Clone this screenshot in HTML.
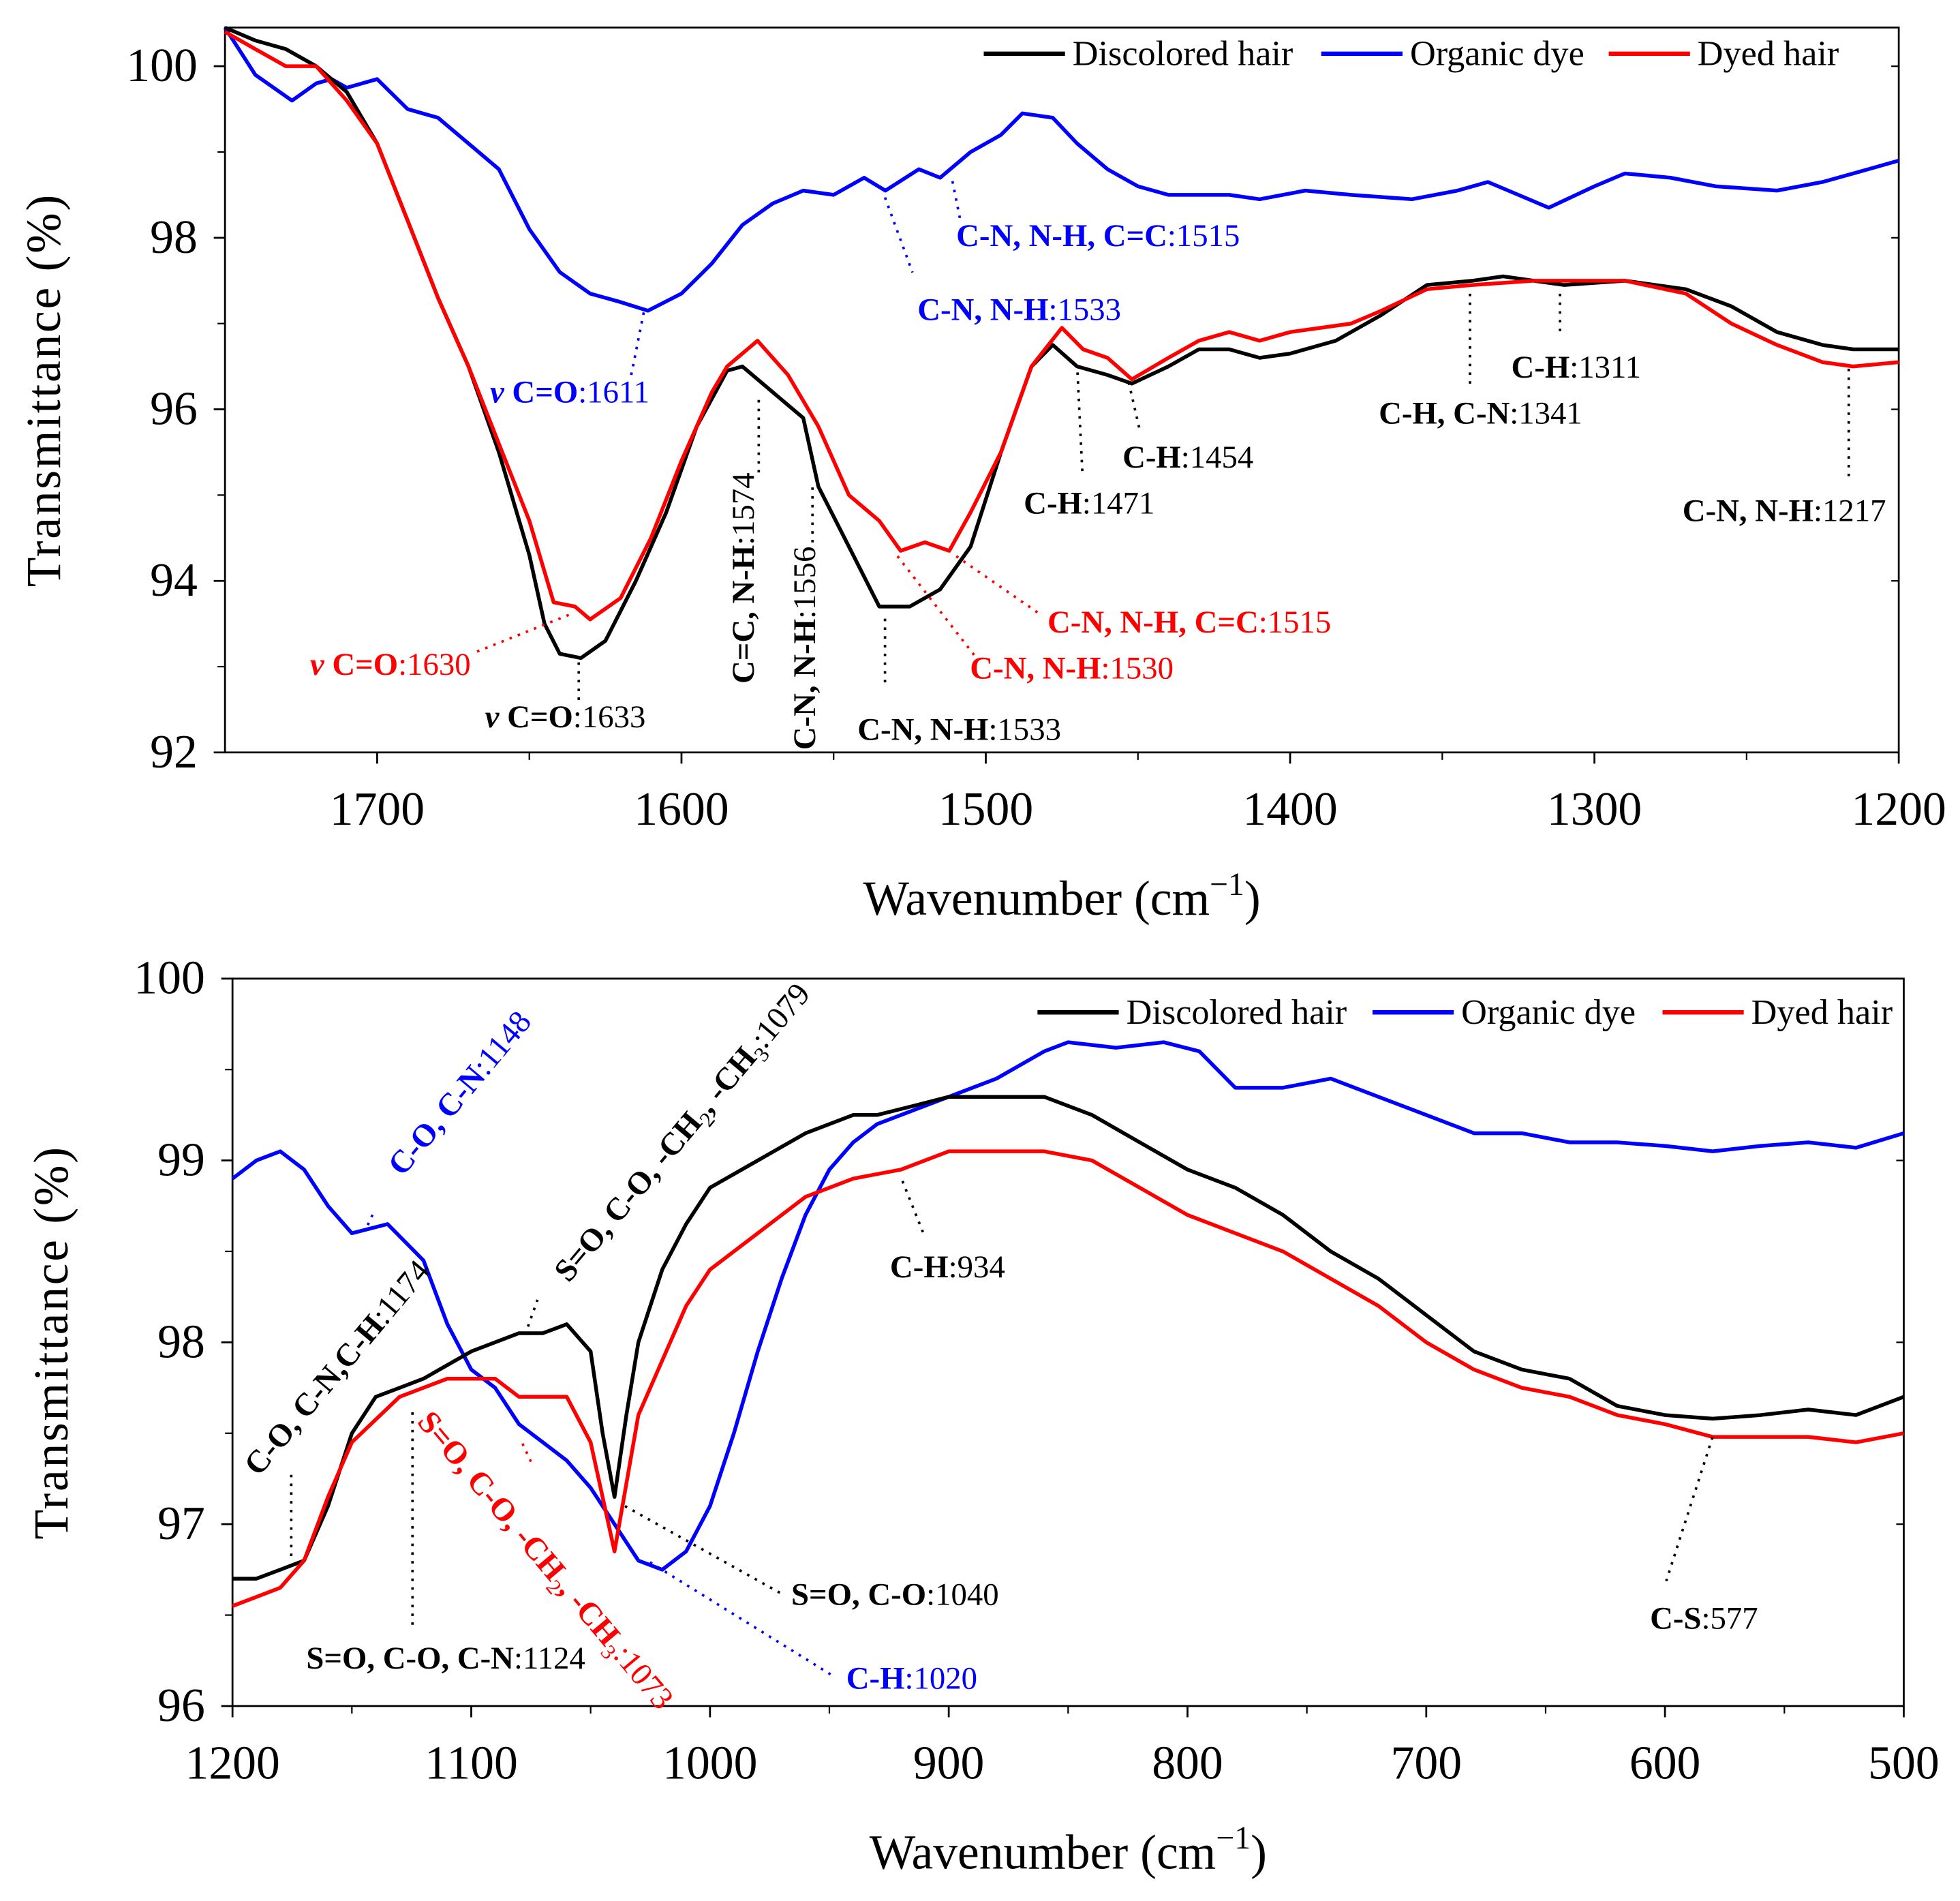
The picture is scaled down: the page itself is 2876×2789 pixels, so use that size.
<!DOCTYPE html>
<html><head><meta charset="utf-8"><style>
html,body{margin:0;padding:0;background:#fff}
svg{display:block}
text{font-family:"Liberation Serif",serif}
</style></head><body>
<svg id="chart" width="2876" height="2789" viewBox="0 0 1568 1521" preserveAspectRatio="none" xmlns="http://www.w3.org/2000/svg">
<g id="top"></g>
<g id="bot"></g>
<g id="ann" font-size="25.5">
 <g stroke-dasharray="2,5" stroke-width="2" fill="none">
  <line x1="515" y1="250" x2="505" y2="300" stroke="#0000ff"/>
  <line x1="708" y1="158" x2="730" y2="218" stroke="#0000ff"/>
  <line x1="762" y1="145" x2="768" y2="175" stroke="#0000ff"/>
  <line x1="463" y1="530" x2="463" y2="560" stroke="#000"/>
  <line x1="455" y1="492" x2="380" y2="522" stroke="#ff0000"/>
  <line x1="607" y1="320" x2="607" y2="380" stroke="#000"/>
  <line x1="650" y1="390" x2="650" y2="440" stroke="#000"/>
  <line x1="708" y1="495" x2="708" y2="550" stroke="#000"/>
  <line x1="718" y1="445" x2="780" y2="525" stroke="#ff0000"/>
  <line x1="765" y1="445" x2="830" y2="490" stroke="#ff0000"/>
  <line x1="862" y1="298" x2="866" y2="380" stroke="#000"/>
  <line x1="903" y1="306" x2="912" y2="345" stroke="#000"/>
  <line x1="1176" y1="235" x2="1176" y2="310" stroke="#000"/>
  <line x1="1248" y1="235" x2="1248" y2="270" stroke="#000"/>
  <line x1="1479" y1="295" x2="1479" y2="385" stroke="#000"/>
  <line x1="298" y1="972" x2="292" y2="985" stroke="#0000ff"/>
  <line x1="233" y1="1180" x2="233" y2="1245" stroke="#000"/>
  <line x1="330" y1="1130" x2="330" y2="1305" stroke="#000"/>
  <line x1="420" y1="1068" x2="430" y2="1040" stroke="#000"/>
  <line x1="418" y1="1155" x2="425" y2="1170" stroke="#ff0000"/>
  <line x1="500" y1="1205" x2="625" y2="1275" stroke="#000"/>
  <line x1="520" y1="1250" x2="665" y2="1340" stroke="#0000ff"/>
  <line x1="722" y1="945" x2="740" y2="990" stroke="#000"/>
  <line x1="1370" y1="1150" x2="1333" y2="1265" stroke="#000"/>
 </g>
 <text x="765" y="197" fill="#0000ff"><tspan font-weight="bold">C-N, N-H, C=C</tspan>:1515</text>
 <text x="734" y="256" fill="#0000ff"><tspan font-weight="bold">C-N, N-H</tspan>:1533</text>
 <text x="392" y="322" fill="#0000ff"><tspan font-weight="bold" font-style="italic">ν</tspan><tspan font-weight="bold"> C=O</tspan>:1611</text>
 <text x="248" y="540" fill="#ff0000"><tspan font-weight="bold" font-style="italic">ν</tspan><tspan font-weight="bold"> C=O</tspan>:1630</text>
 <text x="388" y="582" fill="#000"><tspan font-weight="bold" font-style="italic">ν</tspan><tspan font-weight="bold"> C=O</tspan>:1633</text>
 <text transform="translate(603,547) rotate(-90)" fill="#000"><tspan font-weight="bold">C=C, N-H</tspan>:1574</text>
 <text transform="translate(652,600) rotate(-90)" fill="#000"><tspan font-weight="bold">C-N, N-H</tspan>:1556</text>
 <text x="686" y="592" fill="#000"><tspan font-weight="bold">C-N, N-H</tspan>:1533</text>
 <text x="776" y="543" fill="#ff0000"><tspan font-weight="bold">C-N, N-H</tspan>:1530</text>
 <text x="838" y="506" fill="#ff0000"><tspan font-weight="bold">C-N, N-H, C=C</tspan>:1515</text>
 <text x="819" y="411" fill="#000"><tspan font-weight="bold">C-H</tspan>:1471</text>
 <text x="898" y="374" fill="#000"><tspan font-weight="bold">C-H</tspan>:1454</text>
 <text x="1103" y="339" fill="#000"><tspan font-weight="bold">C-H, C-N</tspan>:1341</text>
 <text x="1209" y="302" fill="#000"><tspan font-weight="bold">C-H</tspan>:1311</text>
 <text x="1346" y="417" fill="#000"><tspan font-weight="bold">C-N, N-H</tspan>:1217</text>
 <text transform="translate(322,942) rotate(-50)" fill="#0000ff"><tspan font-weight="bold">C-O, C-N</tspan>:1148</text>
 <text transform="translate(207,1182) rotate(-50)" fill="#000"><tspan font-weight="bold">C-O, C-N,C-H</tspan>:1174</text>
 <text transform="translate(455,1027) rotate(-50)" fill="#000"><tspan font-weight="bold">S=O, C-O, -CH</tspan><tspan font-size="17" dy="6">2</tspan><tspan font-weight="bold" dy="-6">, -CH</tspan><tspan font-size="17" dy="6">3</tspan><tspan dy="-6">:1079</tspan></text>
 <text transform="translate(333,1138) rotate(50)" fill="#ff0000"><tspan font-weight="bold">S=O, C-O, -CH</tspan><tspan font-size="17" dy="6">2</tspan><tspan font-weight="bold" dy="-6">, -CH</tspan><tspan font-size="17" dy="6">3</tspan><tspan dy="-6">:1073</tspan></text>
 <text x="245" y="1335" fill="#000"><tspan font-weight="bold">S=O, C-O, C-N</tspan>:1124</text>
 <text x="633" y="1284" fill="#000"><tspan font-weight="bold">S=O, C-O</tspan>:1040</text>
 <text x="677" y="1351" fill="#0000ff"><tspan font-weight="bold">C-H</tspan>:1020</text>
 <text x="712" y="1022" fill="#000"><tspan font-weight="bold">C-H</tspan>:934</text>
 <text x="1320" y="1303" fill="#000"><tspan font-weight="bold">C-S</tspan>:577</text>
</g>
</svg>
<script>
const topBlackW=[1750,1740,1730,1720,1710,1700,1690,1680,1670,1660,1650,1645,1640,1633,1625,1615,1605,1595,1585,1580,1570,1560,1555,1545,1535,1525,1515,1505,1495,1485,1478,1470,1460,1452,1440,1430,1420,1410,1400,1385,1370,1355,1340,1330,1320,1310,1290,1270,1255,1240,1225,1215,1200];
const topBlackV=[100.45,100.3,100.2,100.0,99.7,99.1,98.2,97.3,96.5,95.5,94.3,93.5,93.15,93.1,93.3,94.0,94.8,95.8,96.45,96.5,96.2,95.9,95.1,94.4,93.7,93.7,93.9,94.4,95.5,96.5,96.75,96.5,96.4,96.3,96.5,96.7,96.7,96.6,96.65,96.8,97.1,97.45,97.5,97.55,97.5,97.45,97.5,97.4,97.2,96.9,96.75,96.7,96.7];
const topRedW=[1750,1740,1730,1720,1710,1700,1690,1680,1670,1660,1650,1642,1635,1630,1620,1610,1600,1590,1585,1575,1565,1555,1545,1535,1528,1520,1512,1505,1495,1485,1475,1468,1460,1452,1440,1430,1420,1410,1400,1390,1380,1370,1355,1340,1320,1290,1270,1255,1240,1225,1215,1200];
const topRedV=[100.4,100.2,100.0,100.0,99.6,99.1,98.2,97.3,96.5,95.6,94.7,93.75,93.7,93.55,93.8,94.5,95.4,96.2,96.5,96.8,96.4,95.8,95.0,94.7,94.35,94.45,94.35,94.8,95.5,96.5,96.95,96.7,96.6,96.35,96.6,96.8,96.9,96.8,96.9,96.95,97.0,97.15,97.4,97.45,97.5,97.5,97.35,97.0,96.75,96.55,96.5,96.55];
const topBlueW=[1750,1740,1728,1720,1715,1710,1700,1690,1680,1670,1660,1650,1640,1630,1620,1611,1600,1590,1580,1570,1560,1550,1540,1533,1522,1515,1505,1495,1488,1478,1470,1460,1450,1440,1420,1410,1395,1380,1360,1345,1335,1325,1315,1300,1290,1275,1260,1240,1225,1210,1200];
const topBlueV=[100.45,99.9,99.6,99.8,99.85,99.75,99.85,99.5,99.4,99.1,98.8,98.1,97.6,97.35,97.25,97.15,97.35,97.7,98.15,98.4,98.55,98.5,98.7,98.55,98.8,98.7,99.0,99.2,99.45,99.4,99.1,98.8,98.6,98.5,98.5,98.45,98.55,98.5,98.45,98.55,98.65,98.5,98.35,98.6,98.75,98.7,98.6,98.55,98.65,98.8,98.9];
const topXTicks=[1700,1600,1500,1400,1300,1200];
const topYTicks=[92,94,96,98,100];
const botBlackW=[1200,1190,1180,1170,1160,1150,1140,1130,1120,1100,1090,1080,1070,1060,1050,1045,1040,1035,1030,1020,1010,1000,980,960,940,930,915,900,880,860,840,820,800,780,760,740,720,700,680,660,640,620,600,580,560,540,520,500];
const botBlackV=[96.7,96.7,96.75,96.8,97.1,97.5,97.7,97.75,97.8,97.95,98.0,98.05,98.05,98.1,97.95,97.5,97.15,97.6,98.0,98.4,98.65,98.85,99.0,99.15,99.25,99.25,99.3,99.35,99.35,99.35,99.25,99.1,98.95,98.85,98.7,98.5,98.35,98.15,97.95,97.85,97.8,97.65,97.6,97.58,97.6,97.63,97.6,97.7];
const botRedW=[1200,1180,1170,1160,1150,1130,1110,1090,1080,1070,1060,1050,1040,1030,1020,1010,1000,980,960,940,920,900,880,860,840,820,800,780,760,740,720,700,680,660,640,620,600,580,560,540,520,500];
const botRedV=[96.55,96.65,96.8,97.15,97.45,97.7,97.8,97.8,97.7,97.7,97.7,97.45,96.85,97.6,97.9,98.2,98.4,98.6,98.8,98.9,98.95,99.05,99.05,99.05,99.0,98.85,98.7,98.6,98.5,98.35,98.2,98.0,97.85,97.75,97.7,97.6,97.55,97.48,97.48,97.48,97.45,97.5];
const botBlueW=[1200,1190,1180,1170,1160,1150,1135,1120,1110,1100,1090,1080,1070,1060,1050,1040,1030,1020,1010,1000,990,980,970,960,950,940,930,920,900,880,860,850,830,810,795,780,760,740,720,700,680,660,640,620,600,580,560,540,520,500];
const botBlueV=[98.9,99.0,99.05,98.95,98.75,98.6,98.65,98.45,98.1,97.85,97.75,97.55,97.45,97.35,97.2,97.0,96.8,96.75,96.85,97.1,97.5,97.95,98.35,98.7,98.95,99.1,99.2,99.25,99.35,99.45,99.6,99.65,99.62,99.65,99.6,99.4,99.4,99.45,99.35,99.25,99.15,99.15,99.1,99.1,99.08,99.05,99.08,99.1,99.07,99.15];
const botXTicks=[1200,1100,1000,900,800,700,600,500];
const botYTicks=[96,97,98,99,100];
const legendNames=["Discolored hair","Organic dye","Dyed hair"];

const NS="http://www.w3.org/2000/svg";
function mk(tag,attrs,parent){const e=document.createElementNS(NS,tag);for(const k in attrs)e.setAttribute(k,attrs[k]);parent.appendChild(e);return e;}

function panel(g,cfg){
  const xs=w=>cfg.L+(cfg.w0-w)*(cfg.R-cfg.L)/(cfg.w0-cfg.w1);
  const ys=v=>cfg.B-(v-cfg.v0)*(cfg.B-cfg.Tv)/(cfg.v1-cfg.v0);
  const box=mk('rect',{x:cfg.L,y:cfg.T,width:cfg.R-cfg.L,height:cfg.B-cfg.T,fill:'none',stroke:'#000','stroke-width':1.5},g);
  
  
  cfg.xt.forEach(w=>{
    const x=xs(w);
    const t=mk('line',{x1:x,y1:cfg.B,x2:x,y2:cfg.B+9,stroke:'#000','stroke-width':1.5},g);
    
    
    const l=mk('text',{x:x,y:cfg.B+58,'text-anchor':'middle','font-size':38},g);
    l.textContent=w;
    
    
  });
  for(let i=0;i<cfg.xt.length-1;i++){
    const m=(cfg.xt[i]+cfg.xt[i+1])/2; const x=xs(m);
    const t=mk('line',{x1:x,y1:cfg.B,x2:x,y2:cfg.B+6,stroke:'#000','stroke-width':1.2},g);
    
    
  }
  cfg.yt.forEach(v=>{
    const y=ys(v);
    const t=mk('line',{x1:cfg.L-9,y1:y,x2:cfg.L,y2:y,stroke:'#000','stroke-width':1.5},g);
    
    
    const t2=mk('line',{x1:cfg.R,y1:y,x2:cfg.R-6,y2:y,stroke:'#000','stroke-width':1.2},g);
    
    
    const l=mk('text',{x:cfg.L-22,y:y+12,'text-anchor':'end','font-size':38},g);
    l.textContent=v;
    
    
  });
  for(let i=0;i<cfg.yt.length-1;i++){
    const y=ys((cfg.yt[i]+cfg.yt[i+1])/2);
    const t=mk('line',{x1:cfg.L-6,y1:y,x2:cfg.L,y2:y,stroke:'#000','stroke-width':1.2},g);
    
    
  }
  const yt=mk('text',{transform:`translate(${cfg.L-132},${(cfg.T+cfg.B)/2}) rotate(-90)`,'text-anchor':'middle','font-size':39,'letter-spacing':1.5},g);
  yt.textContent='Transmittance (%)';
  
  
  const xt=mk('text',{x:(cfg.L+cfg.R)/2,y:cfg.B+130,'text-anchor':'middle','font-size':39},g);
  
  
  xt.innerHTML='Wavenumber (cm<tspan dy="-16" font-size="26">−1</tspan><tspan dy="16">)</tspan>';
  cfg.series.forEach(s=>{
    const d=s.w.map((w,i)=>(i?'L':'M')+xs(w).toFixed(1)+','+ys(s.v[i]).toFixed(1)).join(' ');
    const p=mk('path',{d:d,fill:'none',stroke:s.c,'stroke-width':3,'stroke-linejoin':'round'},g);
    
    
  });
  cfg.leg.forEach((lx,i)=>{
    const c=['#000','#0000ff','#ff0000'][i];
    const ln=mk('line',{x1:lx,y1:cfg.ly,x2:lx+65,y2:cfg.ly,stroke:c,'stroke-width':3.5},g);
    
    
    const tx=mk('text',{x:lx+71,y:cfg.ly+9,'font-size':28.5},g);
    tx.textContent=legendNames[i];
    
    
  });
}
panel(document.getElementById('top'),{L:180,R:1519,T:22,B:602,Tv:53,w0:1750,w1:1200,v0:92,v1:100,xt:topXTicks,yt:topYTicks,ly:43,leg:[787,1057,1287],
  series:[{w:topBlueW,v:topBlueV,c:'#0000ff',n:'top-organic-dye-line'},{w:topBlackW,v:topBlackV,c:'#000',n:'top-discolored-hair-line'},{w:topRedW,v:topRedV,c:'#ff0000',n:'top-dyed-hair-line'}]});
panel(document.getElementById('bot'),{L:186,R:1523,T:783,B:1365,Tv:783,w0:1200,w1:500,v0:96,v1:100,xt:botXTicks,yt:botYTicks,ly:810,leg:[830,1098,1330],
  series:[{w:botBlueW,v:botBlueV,c:'#0000ff',n:'bottom-organic-dye-line'},{w:botBlackW,v:botBlackV,c:'#000',n:'bottom-discolored-hair-line'},{w:botRedW,v:botRedV,c:'#ff0000',n:'bottom-dyed-hair-line'}]});
</script>
</body></html>
